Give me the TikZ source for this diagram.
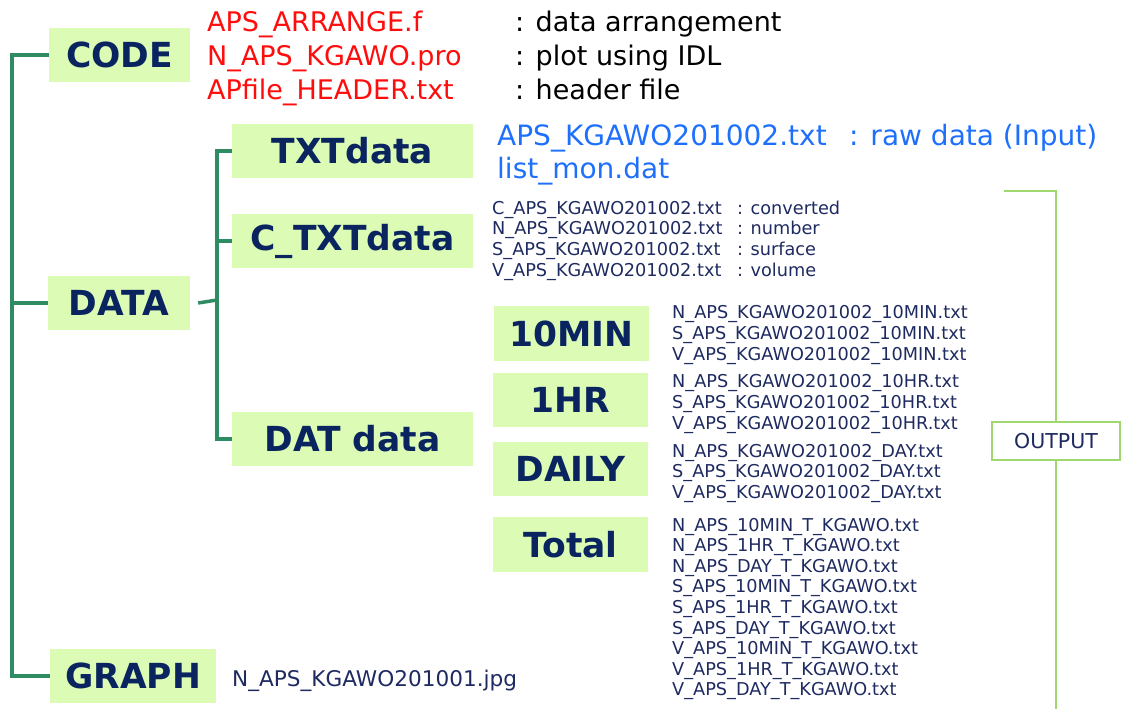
\documentclass[tikz,border=0pt]{standalone}
\usepackage{fontspec}
\setmainfont{DejaVu Sans}
\definecolor{boxg}{RGB}{220,252,182}
\definecolor{navy}{RGB}{10,36,96}
\definecolor{smallc}{RGB}{30,42,96}
\definecolor{treec}{RGB}{46,139,98}
\definecolor{outc}{RGB}{160,216,112}
\definecolor{redc}{RGB}{255,12,12}
\definecolor{bluec}{RGB}{30,112,252}
\tikzset{
  lbox/.style={fill=boxg, text=navy, inner sep=0pt, minimum height=54pt,
    font=\fontsize{34.5}{40}\selectfont\bfseries},
  tree/.style={draw=treec, line width=3.5pt},
  outline/.style={draw=outc, line width=2pt},
  redt/.style={text=redc, inner sep=0pt, anchor=base west, font=\fontsize{27}{33}\selectfont},
  blkt/.style={text=black, inner sep=0pt, anchor=base west, font=\fontsize{27}{33}\selectfont},
  bluet/.style={text=bluec, inner sep=0pt, anchor=base west, font=\fontsize{28}{33}\selectfont},
  smallt/.style={text=smallc, inner sep=0pt, anchor=base west, font=\fontsize{17.7}{20}\selectfont},
}
\begin{document}
\begin{tikzpicture}[x=1pt,y=-1pt]
\useasboundingbox (0,0) rectangle (1121,709);
% main boxes
\node[lbox, minimum width=141pt] (code) at (119.5,55) {CODE};
\node[lbox, minimum width=142pt] (data) at (119,303) {DATA};
\node[lbox, minimum width=166pt] (graph) at (133,676) {GRAPH};
\node[lbox, minimum width=241pt] (txt) at (352.5,151) {TXTdata};
\node[lbox, minimum width=241pt] (ctxt) at (352.5,241) {C\_TXTdata};
\node[lbox, minimum width=241pt] (dat) at (352.5,439) {DAT data};
\node[lbox, minimum width=155pt, minimum height=55pt] (min) at (571.5,333.5) {10MIN};
\node[lbox, minimum width=155pt] (hr) at (570.5,400) {1HR};
\node[lbox, minimum width=155pt] (day) at (570.5,469) {DAILY};
\node[lbox, minimum width=155pt, minimum height=55pt] (tot) at (570.5,544.5) {Total};
% tree connectors
\coordinate (trunk) at (12,0);
\draw[tree] (code.west) -| (trunk |- graph.west) -- (graph.west);
\draw[tree] (data.west) -- (data.west -| trunk);
\coordinate (j) at (217,300);
\draw[tree] ([xshift=8pt]data.east) -- (j);
\draw[tree] (txt.west) -| (j |- dat.west) -- (dat.west);
\draw[tree] (ctxt.west) -- (ctxt.west -| j);
% CODE texts
\node[redt] (c1) at (207,32) {APS\_ARRANGE.f};
\node[redt] (c2) at (207,65.5) {N\_APS\_KGAWO.pro};
\node[redt] (c3) at (207,99) {APfile\_HEADER.txt};
\node[blkt] (d1) at (515,32) {: data arrangement};
\node[blkt] (d2) at (515,65.5) {: plot using IDL};
\node[blkt] (d3) at (515,99) {: header file};
% TXTdata texts
\node[bluet] (b1) at (497,145) {APS\_KGAWO201002.txt};
\node[bluet] (b2) at (849,145) {: raw data (Input)};
\node[bluet] (b3) at (497,178) {list\_mon.dat};
% C_TXTdata texts
\node[smallt] (ct1) at (492,214) {C\_APS\_KGAWO201002.txt};
\node[smallt] (ct2) at (492,234.7) {N\_APS\_KGAWO201002.txt};
\node[smallt] (ct3) at (492,255.4) {S\_APS\_KGAWO201002.txt};
\node[smallt] (ct4) at (492,276.1) {V\_APS\_KGAWO201002.txt};
\node[smallt] (cd1) at (737,214) {: converted};
\node[smallt] (cd2) at (737,234.7) {: number};
\node[smallt] (cd3) at (737,255.4) {: surface};
\node[smallt] (cd4) at (737,276.1) {: volume};
% 10MIN
\node[smallt] (m1) at (672,318) {N\_APS\_KGAWO201002\_10MIN.txt};
\node[smallt] (m2) at (672,339) {S\_APS\_KGAWO201002\_10MIN.txt};
\node[smallt] (m3) at (672,360) {V\_APS\_KGAWO201002\_10MIN.txt};
% 1HR
\node[smallt] (h1) at (672,387) {N\_APS\_KGAWO201002\_10HR.txt};
\node[smallt] (h2) at (672,408) {S\_APS\_KGAWO201002\_10HR.txt};
\node[smallt] (h3) at (672,429) {V\_APS\_KGAWO201002\_10HR.txt};
% DAILY
\node[smallt] (y1) at (672,457) {N\_APS\_KGAWO201002\_DAY.txt};
\node[smallt] (y2) at (672,477.5) {S\_APS\_KGAWO201002\_DAY.txt};
\node[smallt] (y3) at (672,498) {V\_APS\_KGAWO201002\_DAY.txt};
% Total
\foreach \t [count=\i] in {N\_APS\_10MIN\_T\_KGAWO.txt, N\_APS\_1HR\_T\_KGAWO.txt, N\_APS\_DAY\_T\_KGAWO.txt,
  S\_APS\_10MIN\_T\_KGAWO.txt, S\_APS\_1HR\_T\_KGAWO.txt, S\_APS\_DAY\_T\_KGAWO.txt,
  V\_APS\_10MIN\_T\_KGAWO.txt, V\_APS\_1HR\_T\_KGAWO.txt, V\_APS\_DAY\_T\_KGAWO.txt}
  \node[smallt] (t\i) at (672,{531+(\i-1)*20.6}) {\t};
% GRAPH file
\node[smallt, font=\fontsize{21.6}{25}\selectfont] (g1) at (232,686) {N\_APS\_KGAWO201001.jpg};
% OUTPUT
\node[outline, fill=white, text=smallc, minimum width=128pt, minimum height=38pt, inner sep=0pt,
  font=\fontsize{20.5}{24}\selectfont] (out) at (1056,441) {OUTPUT};
\coordinate (otop) at (1004,191);
\coordinate (obot) at (1057,709);
\draw[outline] (otop) -- (otop -| out) -- (out.north);
\draw[outline] (out.south) -- (obot -| out);
\end{tikzpicture}
\end{document}
